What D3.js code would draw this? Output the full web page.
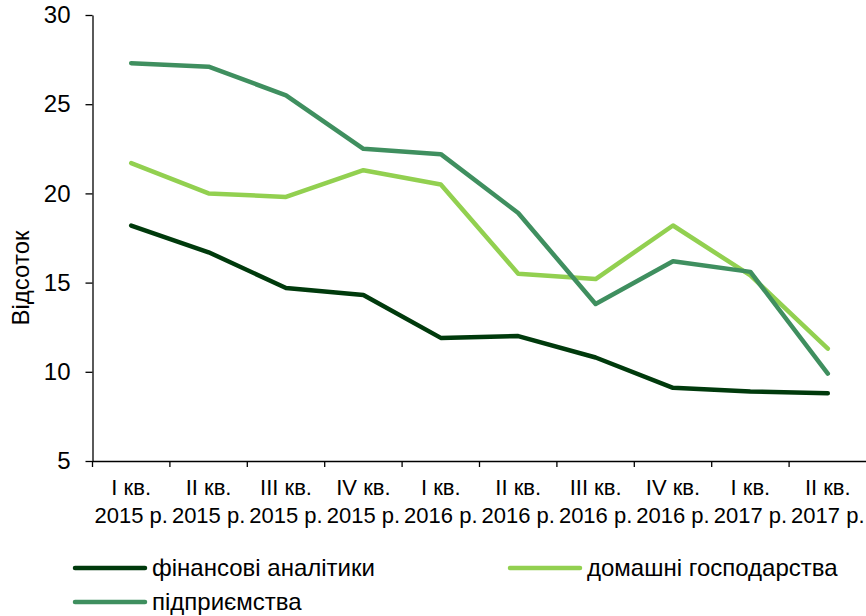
<!DOCTYPE html>
<html>
<head>
<meta charset="utf-8">
<script src="https://cdn.jsdelivr.net/npm/d3@7"></script>
<style>
  body { margin: 0; background: #fff; }
  text { font-family: Arial, "Liberation Sans", sans-serif; fill: #000; }
</style>
</head>
<body>
<div id="container"></div>
<script>
// quarters, two lines per label
const quarters = ["I кв.", "II кв.", "III кв.", "IV кв.", "I кв.", "II кв.", "III кв.", "IV кв.", "I кв.", "II кв."];
const years = ["2015 р.", "2015 р.", "2015 р.", "2015 р.", "2016 р.", "2016 р.", "2016 р.", "2016 р.", "2017 р.", "2017 р."];
const yTicks = [5, 10, 15, 20, 25, 30];

const financial = [18.2, 16.7, 14.7, 14.3, 11.9, 12.0, 10.8, 9.1, 8.9, 8.8];
const households = [21.7, 20.0, 19.8, 21.3, 20.5, 15.5, 15.2, 18.2, 15.4, 11.3];
const enterprises = [27.3, 27.1, 25.5, 22.5, 22.2, 18.9, 13.8, 16.2, 15.6, 9.9];

const seriesNames = ["фінансові аналітики", "домашні господарства", "підприємства"];
const seriesColors = ["#003a0c", "#92d050", "#3f8f5f"];

const width = 866, height = 616;
const svg = d3.select("#container").append("svg")
  .attr("width", width)
  .attr("height", height);

const keys = quarters.map((q, i) => i);
const x = d3.scaleBand().domain(keys).range([92.5, 866.5]).padding(0);
const y = d3.scaleLinear().domain([5, 30]).range([461, 15]);
const bw = x.bandwidth();

// y axis
const yAxis = svg.append("g")
  .attr("transform", "translate(92.5,0)")
  .call(d3.axisLeft(y).tickValues(yTicks).tickSize(7).tickSizeOuter(0).tickPadding(15));
yAxis.selectAll("path, line").attr("stroke", "#000").attr("stroke-width", 1.3);
yAxis.selectAll("text").style("font-size", "24px").attr("fill", "#000");

// x axis, ticks between categories
const xAxis = svg.append("g")
  .attr("transform", "translate(0,461)")
  .call(d3.axisBottom(x).tickSize(6).tickSizeOuter(0).tickFormat(""));
xAxis.selectAll(".tick line").attr("x1", -bw / 2).attr("x2", -bw / 2);
xAxis.selectAll("path, line").attr("stroke", "#000").attr("stroke-width", 1.3);

const lbl = svg.append("g").selectAll("text")
  .data(keys)
  .join("text")
  .attr("text-anchor", "middle")
  .style("font-size", "22px");
lbl.append("tspan")
  .attr("x", d => x(d) + bw / 2)
  .attr("y", 495)
  .text(d => quarters[d]);
lbl.append("tspan")
  .attr("x", d => x(d) + bw / 2)
  .attr("y", 523)
  .text(d => years[d]);

svg.append("text")
  .attr("transform", "translate(29,278) rotate(-90)")
  .attr("text-anchor", "middle")
  .style("font-size", "24px")
  .text("Відсоток");

// lines
const line = d3.line()
  .x((d, i) => x(i) + bw / 2)
  .y(d => y(d));

[financial, households, enterprises].forEach((vals, s) => {
  svg.append("path")
    .datum(vals)
    .attr("d", line)
    .attr("fill", "none")
    .attr("stroke", seriesColors[s])
    .attr("stroke-width", 4.5)
    .attr("stroke-linejoin", "round")
    .attr("stroke-linecap", "round");
});

// legend
const legendPos = [[75, 568], [510, 568], [75, 602]];
seriesNames.forEach((name, s) => {
  const [lx, ly] = legendPos[s];
  svg.append("line")
    .attr("x1", lx).attr("x2", lx + 70)
    .attr("y1", ly).attr("y2", ly)
    .attr("stroke", seriesColors[s])
    .attr("stroke-width", 4.5)
    .attr("stroke-linecap", "round");
  svg.append("text")
    .attr("x", lx + 77)
    .attr("y", ly + 8)
    .style("font-size", "24px")
    .text(name);
});
</script>
</body>
</html>
